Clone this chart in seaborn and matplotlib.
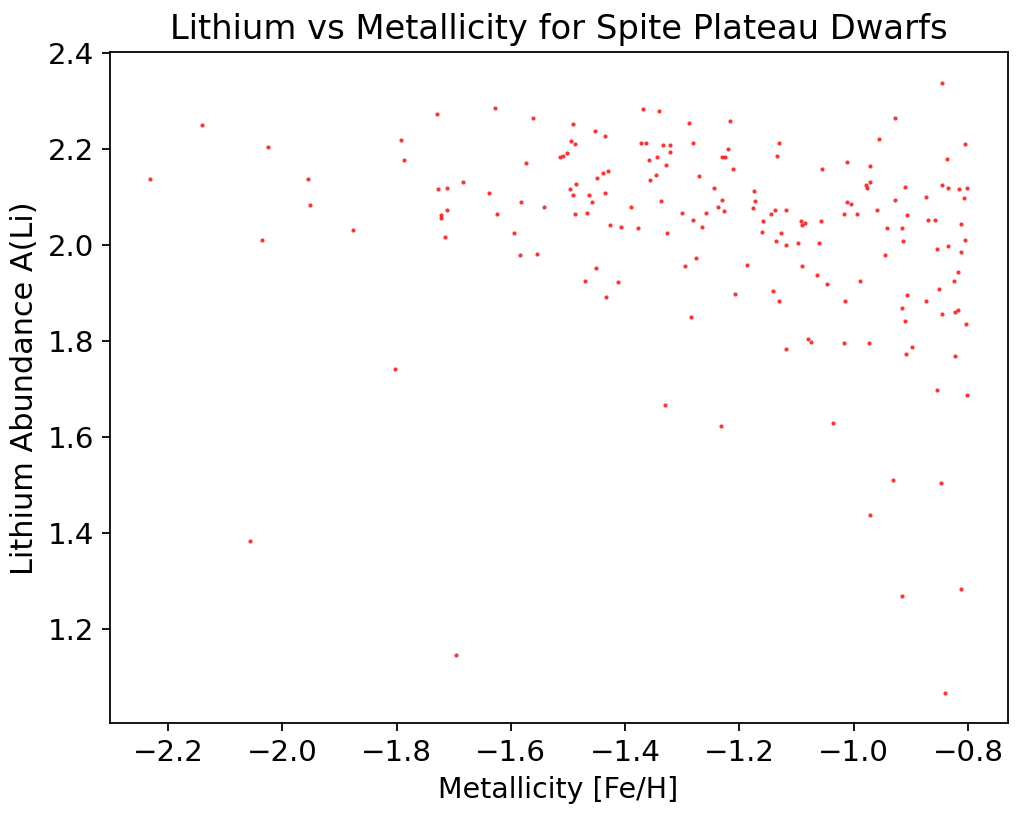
import matplotlib
matplotlib.use("Agg")
import matplotlib.pyplot as plt
import seaborn as sns
import pandas as pd

fe_h = [
    -2.140, -2.025, -2.231, -1.955, -1.952, -1.876, -2.036, -1.793, -1.787, -1.802,
    -2.056, -1.696, -1.729, -1.628, -1.562, -1.491, -1.453, -1.435, -1.369, -1.341,
    -1.288, -1.494, -1.488, -1.501, -1.509, -1.514, -1.574, -1.372, -1.364, -1.334,
    -1.321, -1.321, -1.281, -1.344, -1.359, -1.329, -1.346, -1.356, -1.270, -1.430,
    -1.438, -1.450, -1.683, -1.727, -1.711, -1.638, -1.486, -1.496, -1.491, -1.463,
    -1.435, -1.582, -1.458, -1.542, -1.711, -1.722, -1.722, -1.625, -1.488, -1.466,
    -1.390, -1.338, -1.301, -1.281, -1.258, -1.427, -1.407, -1.377, -1.326, -1.266,
    -1.716, -1.595, -1.584, -1.554, -1.451, -1.470, -1.412, -1.433, -1.295, -1.276,
    -1.285, -1.331, -0.845, -1.217, -0.928, -0.956, -1.131, -1.220, -1.230, -1.225,
    -1.134, -1.212, -1.055, -1.012, -0.971, -0.805, -0.837, -1.245, -1.230, -1.237,
    -1.227, -1.174, -1.172, -1.177, -1.138, -1.119, -1.144, -1.159, -1.161, -1.128,
    -1.136, -1.119, -1.098, -1.093, -1.085, -1.091, -1.057, -1.060, -0.979, -0.976,
    -0.971, -1.012, -1.004, -1.017, -0.994, -0.959, -0.928, -0.910, -0.906, -0.941,
    -0.916, -0.913, -0.946, -0.873, -0.845, -0.835, -0.815, -0.802, -0.807, -0.870,
    -0.858, -0.812, -0.805, -0.855, -0.835, -0.812, -1.187, -1.091, -1.065, -1.047,
    -0.989, -1.207, -1.141, -1.131, -1.015, -0.906, -0.873, -0.916, -0.910, -0.850,
    -0.824, -0.817, -0.845, -0.822, -0.817, -0.804, -1.080, -1.075, -1.119, -1.017,
    -0.974, -0.898, -0.908, -0.822, -0.855, -0.802, -1.233, -1.037, -0.931, -0.847,
    -0.971, -0.916, -0.812, -0.840,
]

a_li = [
    2.250, 2.204, 2.138, 2.138, 2.083, 2.032, 2.010, 2.219, 2.177, 1.741,
    1.384, 1.145, 2.274, 2.286, 2.265, 2.253, 2.238, 2.228, 2.283, 2.280,
    2.255, 2.217, 2.210, 2.192, 2.186, 2.183, 2.171, 2.213, 2.213, 2.208,
    2.208, 2.195, 2.213, 2.183, 2.177, 2.168, 2.146, 2.135, 2.144, 2.155,
    2.150, 2.141, 2.132, 2.117, 2.119, 2.108, 2.128, 2.117, 2.104, 2.104,
    2.108, 2.090, 2.090, 2.080, 2.074, 2.062, 2.056, 2.065, 2.065, 2.068,
    2.080, 2.092, 2.068, 2.053, 2.068, 2.041, 2.038, 2.035, 2.026, 2.038,
    2.017, 2.026, 1.979, 1.981, 1.953, 1.926, 1.923, 1.892, 1.956, 1.974,
    1.850, 1.666, 2.338, 2.259, 2.265, 2.222, 2.213, 2.201, 2.183, 2.183,
    2.186, 2.159, 2.159, 2.174, 2.165, 2.210, 2.180, 2.119, 2.095, 2.080,
    2.071, 2.113, 2.092, 2.077, 2.074, 2.074, 2.065, 2.050, 2.028, 2.026,
    2.008, 2.001, 2.005, 2.050, 2.047, 2.041, 2.050, 2.005, 2.126, 2.119,
    2.131, 2.090, 2.086, 2.065, 2.065, 2.074, 2.095, 2.122, 2.062, 2.035,
    2.035, 2.008, 1.980, 2.101, 2.126, 2.119, 2.117, 2.119, 2.098, 2.053,
    2.053, 2.044, 2.010, 1.991, 1.999, 1.986, 1.959, 1.956, 1.938, 1.920,
    1.926, 1.899, 1.905, 1.883, 1.883, 1.896, 1.883, 1.869, 1.841, 1.908,
    1.926, 1.944, 1.856, 1.860, 1.865, 1.835, 1.805, 1.799, 1.784, 1.796,
    1.796, 1.787, 1.774, 1.768, 1.699, 1.687, 1.623, 1.629, 1.511, 1.505,
    1.438, 1.269, 1.284, 1.067,
]

title = "Lithium vs Metallicity for Spite Plateau Dwarfs"
xlabel = "Metallicity [Fe/H]"
ylabel = "Lithium Abundance A(Li)"

df = pd.DataFrame({"feh": fe_h, "ali": a_li})

fig = plt.figure(figsize=(6.4, 5.09375), dpi=160)
ax = fig.add_axes([0.107, 0.1125, 0.877, 0.8231])
sns.scatterplot(data=df, x="feh", y="ali", ax=ax, color="red", s=3.5,
                alpha=0.8, linewidth=0, legend=False)
ax.set_title(title, fontsize=15.2)
ax.set_xlabel(xlabel, fontsize=12.8)
ax.set_ylabel(ylabel, fontsize=13.6)
ax.set_yticks([1.2, 1.4, 1.6, 1.8, 2.0, 2.2, 2.4])
ax.tick_params(labelsize=13.2)
fig.savefig("out.png", dpi=160)
